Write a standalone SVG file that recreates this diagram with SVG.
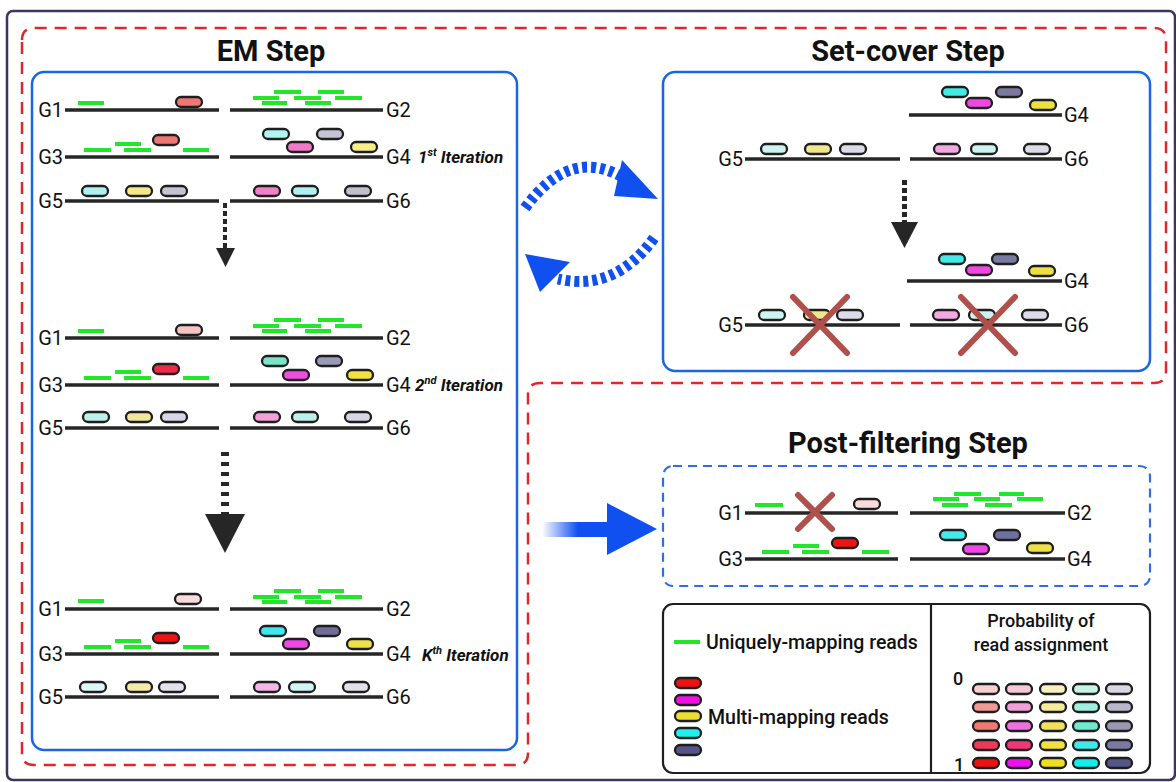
<svg xmlns="http://www.w3.org/2000/svg" width="1176" height="782" viewBox="0 0 1176 782">
<defs>
<style>
.ln{stroke:#262626;stroke-width:3.5;fill:none}
.gr{stroke:#22e62a;stroke-width:4;fill:none}
.p{stroke:#1e1e1e;stroke-width:2.3}
.lbl{font-family:Roboto,"Liberation Sans",sans-serif;font-size:20px;fill:#111}
.ttl{font-family:Roboto,"Liberation Sans",sans-serif;font-size:29px;font-weight:700;fill:#111;text-anchor:middle}
.it{font-family:Roboto,"Liberation Sans",sans-serif;font-size:17px;font-weight:700;font-style:italic;fill:#111}
.leg{font-family:Roboto,"Liberation Sans",sans-serif;font-size:19.5px;font-weight:500;fill:#111}
.leg2{font-family:Roboto,"Liberation Sans",sans-serif;font-size:18px;font-weight:500;fill:#111}
.xm{stroke:#b0504c;stroke-width:6;stroke-linecap:round;fill:none}
.blue{fill:none;stroke:#1a66e0;stroke-width:2.5}
.dot{stroke:#262626;fill:none}
.circ{fill:none;stroke:#1050f0;stroke-width:11;stroke-dasharray:5 4}
</style>
<linearGradient id="fade" gradientUnits="userSpaceOnUse" x1="542" y1="0" x2="578" y2="0">
<stop offset="0" stop-color="#1050f0" stop-opacity="0"/>
<stop offset="1" stop-color="#1050f0" stop-opacity="1"/>
</linearGradient>
</defs>
<rect width="1176" height="782" fill="#fff"/>
<rect x="7" y="11" width="1168" height="769" rx="6" fill="none" stroke="#3f355c" stroke-width="2.5"/>
<path d="M22 40Q22 28 34 28H1154Q1166 28 1166 40V371Q1166 383 1154 383H540Q528 383 528 395V753Q528 765 516 765H34Q22 765 22 753Z" fill="none" stroke="#e0282a" stroke-width="2.5" stroke-dasharray="12 8"/>

<g id="em-step">
<text class="ttl" x="271" y="61">EM Step</text>
<rect class="blue" x="32" y="72" width="485" height="678" rx="12"/>
<g id="em-iter1">
<path class="ln" d="M65 110H219M230 110H383M65 157H219M230 157H383M65 201H219M230 201H383"/>
<text class="lbl" x="63" y="117" text-anchor="end">G1</text>
<text class="lbl" x="386" y="117">G2</text>
<text class="lbl" x="63" y="164" text-anchor="end">G3</text>
<text class="lbl" x="386" y="164">G4</text>
<text class="lbl" x="63" y="208" text-anchor="end">G5</text>
<text class="lbl" x="386" y="208">G6</text>
<path class="gr" d="M78 103h26M274 92h27M318 92h26M253 98h26M294 98h27M335 98h27M262 103h25M305 103h26M84 150h27M115 144h26M124 150h27M183 150h26"/>
<rect class="p" x="176" y="97" width="26" height="10" rx="5" fill="#ee7772"/>
<rect class="p" x="153" y="135" width="26" height="10" rx="5" fill="#ee7772"/>
<rect class="p" x="263" y="129" width="26" height="10" rx="5" fill="#b0f4f4"/>
<rect class="p" x="317" y="129" width="26" height="10" rx="5" fill="#c4c4d4"/>
<rect class="p" x="287" y="142" width="26" height="10" rx="5" fill="#f07ac8"/>
<rect class="p" x="351" y="142" width="26" height="10" rx="5" fill="#f6ee88"/>
<rect class="p" x="82" y="186" width="26" height="10" rx="5" fill="#aef0ee"/>
<rect class="p" x="126" y="186" width="26" height="10" rx="5" fill="#f4e888"/>
<rect class="p" x="161" y="186" width="26" height="10" rx="5" fill="#c4c4d0"/>
<rect class="p" x="254" y="186" width="26" height="10" rx="5" fill="#f080c8"/>
<rect class="p" x="292" y="186" width="26" height="10" rx="5" fill="#b0f0f0"/>
<rect class="p" x="345" y="186" width="26" height="10" rx="5" fill="#c0c0cc"/>
<text class="it" x="418" y="163">1<tspan font-size="11" dy="-7">st</tspan><tspan dy="7"> Iteration</tspan></text>
</g>
<g id="em-iter2">
<path class="ln" d="M65 338H219M230 338H383M65 385H219M230 385H383M65 428H219M230 428H383"/>
<text class="lbl" x="63" y="345" text-anchor="end">G1</text>
<text class="lbl" x="386" y="345">G2</text>
<text class="lbl" x="63" y="392" text-anchor="end">G3</text>
<text class="lbl" x="386" y="392">G4</text>
<text class="lbl" x="63" y="435" text-anchor="end">G5</text>
<text class="lbl" x="386" y="435">G6</text>
<path class="gr" d="M78 331h26M274 320h27M318 320h26M253 326h26M294 326h27M335 326h27M262 331h25M305 331h26M84 378h27M115 372h26M124 378h27M183 378h26"/>
<rect class="p" x="176" y="325" width="26" height="10" rx="5" fill="#f4c4c4"/>
<rect class="p" x="153" y="364" width="26" height="10" rx="5" fill="#ee2a48"/>
<rect class="p" x="262" y="356" width="26" height="10" rx="5" fill="#78e4c8"/>
<rect class="p" x="316" y="356" width="26" height="10" rx="5" fill="#9a9ab8"/>
<rect class="p" x="283" y="370" width="26" height="10" rx="5" fill="#f04ee0"/>
<rect class="p" x="347" y="370" width="26" height="10" rx="5" fill="#f2e23e"/>
<rect class="p" x="83" y="412" width="26" height="10" rx="5" fill="#bff0e8"/>
<rect class="p" x="126" y="412" width="26" height="10" rx="5" fill="#f2e69a"/>
<rect class="p" x="161" y="412" width="26" height="10" rx="5" fill="#d6d6e6"/>
<rect class="p" x="254" y="412" width="26" height="10" rx="5" fill="#f2a0d8"/>
<rect class="p" x="292" y="412" width="26" height="10" rx="5" fill="#bcf0e8"/>
<rect class="p" x="345" y="412" width="26" height="10" rx="5" fill="#d6d6e6"/>
<text class="it" x="415" y="391">2<tspan font-size="11" dy="-7">nd</tspan><tspan dy="7"> Iteration</tspan></text>
</g>
<g id="em-iterk">
<path class="ln" d="M65 609H219M230 609H383M65 654H219M230 654H383M65 697H219M230 697H383"/>
<text class="lbl" x="63" y="616" text-anchor="end">G1</text>
<text class="lbl" x="386" y="616">G2</text>
<text class="lbl" x="63" y="661" text-anchor="end">G3</text>
<text class="lbl" x="386" y="661">G4</text>
<text class="lbl" x="63" y="704" text-anchor="end">G5</text>
<text class="lbl" x="386" y="704">G6</text>
<path class="gr" d="M78 601h26M274 591h27M318 591h26M253 597h26M294 597h27M335 597h27M262 602h25M305 602h26M84 647h27M115 641h26M124 647h27M183 647h26"/>
<rect class="p" x="175" y="594" width="26" height="10" rx="5" fill="#f8dcdc"/>
<rect class="p" x="153" y="633" width="26" height="10" rx="5" fill="#ee1414"/>
<rect class="p" x="260" y="626" width="26" height="10" rx="5" fill="#3ee8ee"/>
<rect class="p" x="314" y="626" width="26" height="10" rx="5" fill="#6e6e98"/>
<rect class="p" x="283" y="639" width="26" height="10" rx="5" fill="#f046e8"/>
<rect class="p" x="347" y="639" width="26" height="10" rx="5" fill="#eee046"/>
<rect class="p" x="80" y="682" width="26" height="10" rx="5" fill="#dcf8f6"/>
<rect class="p" x="126" y="682" width="26" height="10" rx="5" fill="#f4eca6"/>
<rect class="p" x="159" y="682" width="26" height="10" rx="5" fill="#e2e2ea"/>
<rect class="p" x="254" y="682" width="26" height="10" rx="5" fill="#f4b6e6"/>
<rect class="p" x="289" y="682" width="26" height="10" rx="5" fill="#d0f4f2"/>
<rect class="p" x="343" y="682" width="26" height="10" rx="5" fill="#e2e2ea"/>
<text class="it" x="422" y="661">K<tspan font-size="11" dy="-7">th</tspan><tspan dy="7"> Iteration</tspan></text>
</g>
</g>

<g id="setcover-step">
<text class="ttl" x="908" y="61" font-size="28">Set-cover Step</text>
<rect class="blue" x="663" y="72" width="487" height="299" rx="12"/>
<path class="ln" d="M909 115H1062M745 159H900M910 159H1062M907 281H1062M745 325H900M910 325H1062"/>
<text class="lbl" x="1064" y="122">G4</text>
<text class="lbl" x="743" y="166" text-anchor="end">G5</text>
<text class="lbl" x="1064" y="166">G6</text>
<text class="lbl" x="1064" y="288">G4</text>
<text class="lbl" x="743" y="332" text-anchor="end">G5</text>
<text class="lbl" x="1064" y="332">G6</text>
<rect class="p" x="942" y="87" width="26" height="10" rx="5" fill="#44eae4"/>
<rect class="p" x="996" y="87" width="26" height="10" rx="5" fill="#7a7aa0"/>
<rect class="p" x="966" y="98" width="26" height="10" rx="5" fill="#ee48e0"/>
<rect class="p" x="1030" y="100" width="26" height="10" rx="5" fill="#eee040"/>
<rect class="p" x="761" y="144" width="26" height="10" rx="5" fill="#ccf4f0"/>
<rect class="p" x="805" y="144" width="26" height="10" rx="5" fill="#f2e68c"/>
<rect class="p" x="840" y="144" width="26" height="10" rx="5" fill="#dcdce8"/>
<rect class="p" x="934" y="144" width="26" height="10" rx="5" fill="#f2a8e0"/>
<rect class="p" x="971" y="144" width="26" height="10" rx="5" fill="#ccf4f0"/>
<rect class="p" x="1024" y="144" width="26" height="10" rx="5" fill="#dcdce8"/>
<rect class="p" x="939" y="254" width="26" height="10" rx="5" fill="#44eae4"/>
<rect class="p" x="992" y="254" width="26" height="10" rx="5" fill="#7a7aa0"/>
<rect class="p" x="966" y="265" width="26" height="10" rx="5" fill="#ee48e0"/>
<rect class="p" x="1029" y="266" width="26" height="10" rx="5" fill="#eee040"/>
<rect class="p" x="759" y="310" width="26" height="10" rx="5" fill="#ccf4f0"/>
<rect class="p" x="804" y="310" width="26" height="10" rx="5" fill="#f2e68c"/>
<rect class="p" x="837" y="310" width="26" height="10" rx="5" fill="#dcdce8"/>
<rect class="p" x="933" y="310" width="26" height="10" rx="5" fill="#f2a8e0"/>
<rect class="p" x="969" y="310" width="26" height="10" rx="5" fill="#ccf4f0"/>
<rect class="p" x="1022" y="310" width="26" height="10" rx="5" fill="#dcdce8"/>
<path class="xm" d="M793 297L847 353M847 297L793 353M961 297L1015 353M1015 297L961 353"/>
</g>

<g id="postfilter-step">
<text class="ttl" x="908" y="453" font-size="31">Post-filtering Step</text>
<rect x="663" y="466" width="487" height="120" rx="10" fill="none" stroke="#2e6fe0" stroke-width="2.2" stroke-dasharray="9 6"/>
<path class="ln" d="M745 513H898M910 513H1065M745 559H898M910 559H1065"/>
<text class="lbl" x="743" y="520" text-anchor="end">G1</text>
<text class="lbl" x="1067" y="520">G2</text>
<text class="lbl" x="743" y="566" text-anchor="end">G3</text>
<text class="lbl" x="1067" y="566">G4</text>
<path class="gr" d="M755 505h28M954 494h27M999 494h25M933 499h26M974 499h26M1017 499h26M942 505h26M985 505h27M762 552h27M793 546h26M802 552h27M862 552h27"/>
<rect class="p" x="854" y="499" width="26" height="10" rx="5" fill="#f8dcdc"/>
<rect class="p" x="832" y="538" width="26" height="10" rx="5" fill="#ee1414"/>
<rect class="p" x="940" y="530" width="26" height="10" rx="5" fill="#44eaee"/>
<rect class="p" x="994" y="530" width="26" height="10" rx="5" fill="#7070a0"/>
<rect class="p" x="963" y="544" width="26" height="10" rx="5" fill="#f046e8"/>
<rect class="p" x="1027" y="543" width="26" height="10" rx="5" fill="#eee046"/>
<path class="xm" d="M798 495L832 529M832 495L798 529"/>
</g>

<g id="legend">
<rect x="663" y="604" width="487" height="169" rx="10" fill="none" stroke="#1e1e1e" stroke-width="2.2"/>
<path d="M931 604V773" stroke="#1e1e1e" stroke-width="2.2"/>
<path class="gr" d="M674 642H700"/>
<text class="leg" x="706" y="649">Uniquely-mapping reads</text>
<rect class="p" x="675" y="678" width="26" height="10" rx="5" fill="#ee1111"/>
<rect class="p" x="675" y="695" width="26" height="10" rx="5" fill="#ee11e0"/>
<rect class="p" x="675" y="711" width="26" height="10" rx="5" fill="#eedd33"/>
<rect class="p" x="675" y="728" width="26" height="10" rx="5" fill="#22eeee"/>
<rect class="p" x="675" y="745" width="26" height="10" rx="5" fill="#555588"/>
<text class="leg" x="708" y="724">Multi-mapping reads</text>
<text class="leg2" x="1041" y="627" text-anchor="middle">Probability of</text>
<text class="leg2" x="1041" y="651" text-anchor="middle">read assignment</text>
<text class="leg2" x="953" y="685">0</text>
<text class="leg2" x="954" y="771">1</text>
<g id="prob-grid">
<rect class="p" x="973" y="684" width="26" height="10" rx="5" fill="#f8d0d0"/>
<rect class="p" x="1006" y="684" width="26" height="10" rx="5" fill="#f4c8d8"/>
<rect class="p" x="1040" y="684" width="26" height="10" rx="5" fill="#f8f0c0"/>
<rect class="p" x="1073" y="684" width="26" height="10" rx="5" fill="#c8f4e8"/>
<rect class="p" x="1106" y="684" width="26" height="10" rx="5" fill="#d8d8e4"/>
<rect class="p" x="973" y="702" width="26" height="10" rx="5" fill="#f09a98"/>
<rect class="p" x="1006" y="702" width="26" height="10" rx="5" fill="#f0a0d8"/>
<rect class="p" x="1040" y="702" width="26" height="10" rx="5" fill="#f4ec98"/>
<rect class="p" x="1073" y="702" width="26" height="10" rx="5" fill="#a0f0e0"/>
<rect class="p" x="1106" y="702" width="26" height="10" rx="5" fill="#b8b8cc"/>
<rect class="p" x="973" y="721" width="26" height="10" rx="5" fill="#f07a70"/>
<rect class="p" x="1006" y="721" width="26" height="10" rx="5" fill="#f070e0"/>
<rect class="p" x="1040" y="721" width="26" height="10" rx="5" fill="#f0e060"/>
<rect class="p" x="1073" y="721" width="26" height="10" rx="5" fill="#70e8d0"/>
<rect class="p" x="1106" y="721" width="26" height="10" rx="5" fill="#9898b4"/>
<rect class="p" x="973" y="740" width="26" height="10" rx="5" fill="#f03858"/>
<rect class="p" x="1006" y="740" width="26" height="10" rx="5" fill="#f03878"/>
<rect class="p" x="1040" y="740" width="26" height="10" rx="5" fill="#f0e040"/>
<rect class="p" x="1073" y="740" width="26" height="10" rx="5" fill="#40e8e8"/>
<rect class="p" x="1106" y="740" width="26" height="10" rx="5" fill="#7a7aa0"/>
<rect class="p" x="973" y="758" width="26" height="10" rx="5" fill="#ee1111"/>
<rect class="p" x="1006" y="758" width="26" height="10" rx="5" fill="#ee11ee"/>
<rect class="p" x="1040" y="758" width="26" height="10" rx="5" fill="#eedd22"/>
<rect class="p" x="1073" y="758" width="26" height="10" rx="5" fill="#11eeee"/>
<rect class="p" x="1106" y="758" width="26" height="10" rx="5" fill="#555588"/>
</g>
</g>

<g id="connectors">
<path class="dot" d="M225 203V249" stroke-width="4" stroke-dasharray="5 3"/>
<polygon points="216,248 235,248 225.5,267" fill="#262626"/>
<path class="dot" d="M225 452V514" stroke-width="8" stroke-dasharray="4 6"/>
<polygon points="205,514 245,514 225,553" fill="#262626"/>
<path class="dot" d="M904.5 180V222" stroke-width="5" stroke-dasharray="5 3"/>
<polygon points="891,222 918,222 904.5,248" fill="#262626"/>
<path class="circ" d="M525 208Q570 146 624 178"/>
<polygon points="622,160 614,196 658,199" fill="#1050f0"/>
<path class="circ" d="M654 238Q615 292 558 279"/>
<polygon points="525,254 540,292 570,262" fill="#1050f0"/>
<rect x="542" y="522" width="67" height="15" fill="url(#fade)"/>
<polygon points="607,503 607,555 657,529" fill="#1050f0"/>
</g>
</svg>
